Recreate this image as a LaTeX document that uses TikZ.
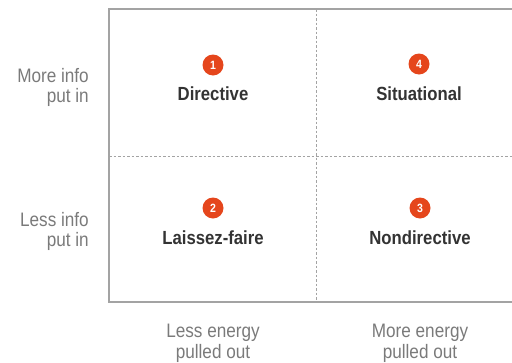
\documentclass[tikz,border=0pt]{standalone}
\usepackage{fontspec}
\setmainfont{Liberation Sans}[FakeStretch=0.88]
\usetikzlibrary{positioning}
\definecolor{badge}{HTML}{E5461C}
\definecolor{titletext}{HTML}{333333}
\definecolor{axistext}{HTML}{7A7A7A}
\definecolor{frame}{HTML}{A3A3A3}
\tikzset{
  quadtitle/.style={anchor=base, inner sep=0pt, text=titletext, font=\fontsize{19}{21}\selectfont\bfseries},
  numbadge/.style={circle, fill=badge, minimum size=21pt, inner sep=0pt, text=white, font=\fontsize{12}{12}\selectfont\bfseries},
  axislabel/.style={inner sep=0pt, text=axistext, font=\fontsize{19.5}{20.5}\selectfont},
  frameline/.style={draw=frame, line width=1.3pt},
  divider/.style={draw=frame, line width=0.9pt, dash pattern=on 2.5pt off 2pt}
}
\begin{document}
\begin{tikzpicture}[x=1pt,y=-1pt]
\useasboundingbox (0,0) rectangle (512,362);
% frame corners
\coordinate (tl) at (109,9);
\coordinate (tr) at (512,9);
\coordinate (bl) at (109,302);
\coordinate (br) at (512,302);
\coordinate (ml) at (109,156);
\coordinate (mr) at (512,156);
\coordinate (mt) at (316,9);
\coordinate (mb) at (316,302);
% dividers
\draw[divider] (ml) -- (mr);
\draw[divider] (mt) -- (mb);
% frame
\draw[frameline] (tr) -- (tl) -- (bl) -- (br);
% badges
\node[numbadge] (b1) at (213,65) {1};
\node[numbadge] (b4) at (419,64) {4};
\node[numbadge] (b2) at (213,208) {2};
\node[numbadge] (b3) at (420,208) {3};
% quadrant titles
\node[quadtitle] (q1) at (213,100) {Directive};
\node[quadtitle] (q4) at (419,100) {Situational};
\node[quadtitle] (q2) at (213,244) {Laissez-faire};
\node[quadtitle] (q3) at (420,244) {Nondirective};
% axis labels
\node[axislabel, anchor=north east, align=right] (ymore) at (89,68) {More info\\put in};
\node[axislabel, anchor=north east, align=right] (yless) at (89,212) {Less info\\put in};
\node[axislabel, anchor=north, align=center] (xless) at (213,324) {Less energy\\pulled out};
\node[axislabel, anchor=north, align=center] (xmore) at (420,324) {More energy\\pulled out};
\end{tikzpicture}
\end{document}
